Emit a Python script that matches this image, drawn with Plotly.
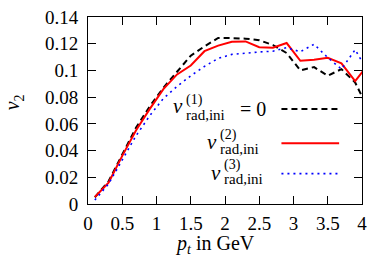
import plotly.graph_objects as go

pt = [0.1, 0.3, 0.5, 0.7, 0.9, 1.1, 1.3, 1.5, 1.7, 1.9, 2.1, 2.3, 2.5, 2.7, 2.9, 3.1, 3.3, 3.5, 3.7, 3.9, 4.1]
v2_1 = [0.005, 0.017, 0.037, 0.057, 0.073, 0.087, 0.099, 0.111, 0.118, 0.1243, 0.1242, 0.1238, 0.1226, 0.119, 0.113,
        0.100, 0.1025, 0.096, 0.101, 0.091, 0.070]
v2_2 = [0.0052, 0.016, 0.036, 0.055, 0.071, 0.086, 0.097, 0.1037, 0.1144, 0.1186, 0.1215, 0.1217, 0.1174, 0.117, 0.1205,
        0.1072, 0.108, 0.1094, 0.1053, 0.092, 0.105]
v2_3 = [0.003, 0.015, 0.033, 0.051, 0.066, 0.079, 0.088, 0.096, 0.103, 0.109, 0.112, 0.113, 0.1138, 0.1144, 0.117,
        0.114, 0.1196, 0.1096, 0.101, 0.1155, 0.098]

xticks = [0, 0.5, 1, 1.5, 2, 2.5, 3, 3.5, 4]
xticklabels = ["0", "0.5", "1", "1.5", "2", "2.5", "3", "3.5", "4"]
yticks = [0, 0.02, 0.04, 0.06, 0.08, 0.1, 0.12, 0.14]
yticklabels = ["0", "0.02", "0.04", "0.06", "0.08", "0.1", "0.12", "0.14"]

W, H = 374, 261
L, R, T, B = 87.5, 363, 7, 204
FONT = "Liberation Serif, serif"


def fx(px):
    return (px - L) / (R - L)


def fy(py):
    return (B - py) / (B - T)


fig = go.Figure()
fig.add_trace(go.Scatter(x=pt, y=v2_1, mode="lines", line=dict(color="black", width=2, dash="6px,4px"),
                         showlegend=False))
fig.add_trace(go.Scatter(x=pt, y=v2_2, mode="lines", line=dict(color="#ff0000", width=2), showlegend=False))
fig.add_trace(go.Scatter(x=pt, y=v2_3, mode="lines", line=dict(color="#0000ff", width=1.6, dash="2px,4px"),
                         showlegend=False))

axis_common = dict(showline=True, linecolor="black", linewidth=1, mirror="ticks", ticks="inside", ticklen=8,
                   tickcolor="black", tickwidth=1, showgrid=False, zeroline=False, ticklabeloverflow="allow",
                   tickfont=dict(family=FONT, size=19, color="black"))
fig.update_xaxes(range=[-1e-6, 4.000001], tickvals=xticks, ticktext=xticklabels, ticklabelstandoff=2, **axis_common)
fig.update_yaxes(range=[-1e-8, 0.1400001], tickvals=yticks, ticktext=yticklabels, ticklabelstandoff=5, **axis_common)

ann = []


def text(s, px, py, size, xanchor="center"):
    ann.append(dict(text=s, x=fx(px), y=fy(py), xref="paper", yref="paper", showarrow=False,
                    xanchor=xanchor, yanchor="middle", font=dict(family=FONT, size=size, color="black")))


# axis titles
text("<i>p</i><sub><i>t</i></sub> in GeV", 215, 247, 20)
ann.append(dict(text="<i>v</i><sub>2</sub>", x=fx(13), y=fy(97), xref="paper", yref="paper", showarrow=False,
                textangle=-90, xanchor="center", yanchor="middle", font=dict(family=FONT, size=20, color="black")))

# legend entries (label right-aligned before sample)
legend = [
    ("(1)", 184, 101, 94, 110, "= 0", 104, "black", 2, "6px,4px"),
    ("(2)", 218, 139, 131, 146, None, 140, "#ff0000", 2, "solid"),
    ("(3)", 222, 171, 163, 178, None, 172, "#0000ff", 1.6, "2px,4px"),
]
for sup, xs, yv, ysup, ysub, extra, yl, col, w, dash in legend:
    text("<i>v</i>", xs + 1, yv, 21, "right")
    text(sup, xs, ysup, 14, "left")
    text("rad,ini", xs, ysub, 15, "left")
    if extra:
        text(extra, 268, yv + 3, 20, "right")

shapes = []
for sup, xs, yv, ysup, ysub, extra, yl, col, w, dash in legend:
    shapes.append(dict(type="line", xref="paper", yref="paper", x0=fx(282), x1=fx(340), y0=fy(yl), y1=fy(yl),
                       line=dict(color=col, width=w, dash=dash)))

fig.update_layout(width=W, height=H, margin=dict(l=L, r=W - R, t=T, b=H - B), paper_bgcolor="white",
                  plot_bgcolor="white", annotations=ann, shapes=shapes, showlegend=False,
                  font=dict(family=FONT, color="black"))

fig.write_html("out.html", config={"displayModeBar": False},
               post_script="document.body.style.margin='0';document.body.style.padding='0';")
